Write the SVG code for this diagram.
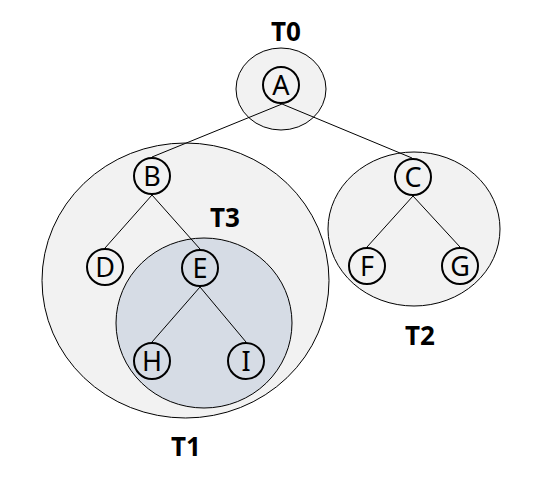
<svg xmlns="http://www.w3.org/2000/svg" width="551" height="482" viewBox="0 0 551 482">
<style>
.sub{fill:#f2f2f2;stroke:#000;stroke-width:1}
.inner{fill:#d6dce5;stroke:#000;stroke-width:1}
.edge{stroke:#000;stroke-width:1;fill:none}
.node circle{fill:none;stroke:#000;stroke-width:2}
.node text{font-family:"Noto Sans","Open Sans",sans-serif;font-size:27px;text-anchor:middle;fill:#000}
.lbl{font-family:"Noto Sans","Liberation Sans",sans-serif;font-size:26px;font-weight:bold;text-anchor:middle;fill:#000}
</style>
<rect width="551" height="482" fill="#fff"/>
<g id="regions">
<ellipse id="T1" class="sub" cx="185.5" cy="280.5" rx="143.5" ry="137.5"/>
<ellipse id="T2" class="sub" cx="414" cy="229" rx="86" ry="77"/>
<ellipse id="T0" class="sub" cx="281" cy="89" rx="45" ry="41"/>
<ellipse id="T3" class="inner" cx="204" cy="323" rx="88" ry="85"/>
</g>
<g id="labels">
<text class="lbl" x="286" y="41">T0</text>
<text class="lbl" x="225" y="227">T3</text>
<text class="lbl" x="420" y="345">T2</text>
<text class="lbl" x="186" y="456">T1</text>
</g>
<g id="connectors">
<line class="edge" x1="282" y1="104" x2="152" y2="157"/>
<line class="edge" x1="282" y1="104" x2="412" y2="158"/>
<line class="edge" x1="152" y1="195" x2="105" y2="248"/>
<line class="edge" x1="152" y1="195" x2="200" y2="249"/>
<line class="edge" x1="413" y1="196" x2="367" y2="247"/>
<line class="edge" x1="413" y1="196" x2="460" y2="247"/>
<line class="edge" x1="200" y1="287" x2="152" y2="342"/>
<line class="edge" x1="200" y1="287" x2="246" y2="342"/>
</g>
<g id="A" class="node"><circle cx="281" cy="85" r="18"/><text x="281" y="94.5">A</text></g>
<g id="B" class="node"><circle cx="152" cy="176" r="18"/><text x="152" y="185.5">B</text></g>
<g id="C" class="node"><circle cx="413" cy="177" r="18"/><text x="413" y="186.5">C</text></g>
<g id="D" class="node"><circle cx="105" cy="267" r="18"/><text x="105" y="276.5">D</text></g>
<g id="E" class="node"><circle cx="200" cy="268" r="18"/><text x="200" y="277.5">E</text></g>
<g id="F" class="node"><circle cx="367" cy="266" r="18"/><text x="367" y="275.5">F</text></g>
<g id="G" class="node"><circle cx="460" cy="266" r="18"/><text x="460" y="275.5">G</text></g>
<g id="H" class="node"><circle cx="152" cy="361" r="18"/><text x="152" y="370.5">H</text></g>
<g id="I" class="node"><circle cx="246" cy="361" r="18"/><text x="246" y="370.5">I</text></g>
</svg>
